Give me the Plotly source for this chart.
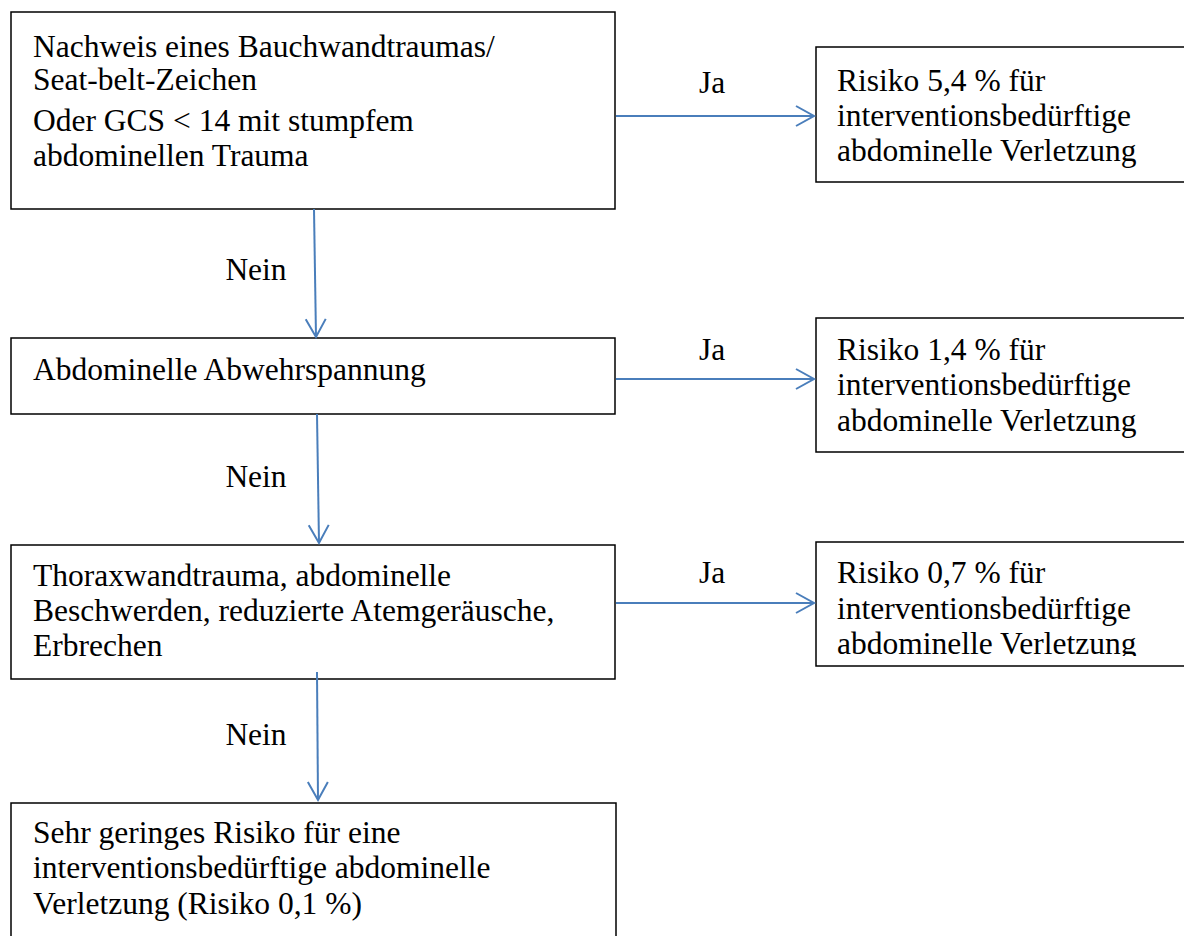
import math
import plotly.graph_objects as go

# ---------------- data (texts) ----------------
box1_lines = ["Nachweis eines Bauchwandtraumas/", "Seat-belt-Zeichen",
              "Oder GCS < 14 mit stumpfem", "abdominellen Trauma"]
box2_lines = ["Abdominelle Abwehrspannung"]
box3_lines = ["Thoraxwandtrauma, abdominelle",
              "Beschwerden, reduzierte Atemgeräusche,", "Erbrechen"]
box4_lines = ["Sehr geringes Risiko für eine",
              "interventionsbedürftige abdominelle",
              "Verletzung (Risiko 0,1 %)"]
risk_values = ["5,4", "1,4", "0,7"]
risk_tail = ["interventionsbedürftige", "abdominelle Verletzung"]
yes_label = "Ja"
no_label = "Nein"

# ---------------- layout (pixel coordinates) ----------------
W, H = 1184, 936
FONT = "Liberation Serif, Times New Roman, serif"
FS = 31.5
BLUE = "#4A7EBB"

left_boxes = [  # x0, y0, x1, y1
    (11, 12, 615, 209),
    (11, 338, 615, 414),
    (11, 545, 615, 679),
    (11, 803, 616, 945),
]
left_baselines = [
    [52, 85, 126, 161],
    [375],
    [581, 616, 651],
    [838, 873, 909],
]
right_boxes = [
    (816, 47, 1200, 182),
    (816, 318, 1200, 452),
    (816, 542, 1200, 666),
]
right_baselines = [
    [86, 121, 156],
    [355, 390, 426],
    [578, 614, 649],
]
text_x_left = 33
text_x_right = 837
baseline_to_mid = 3

yes_pos = [(712, 85), (712, 352), (712, 575)]
no_pos = [(256, 272), (256, 479), (256, 737)]

h_arrows = [((616, 116), (814, 116)), ((616, 379), (814, 379)), ((616, 603), (814, 603))]
v_arrows = [((314, 209), (316, 337)), ((317, 414), (319, 543)), ((317, 672), (318, 800))]

fig = go.Figure()

left_texts = [box1_lines, box2_lines, box3_lines, box4_lines]
for lines, bls in zip(left_texts, left_baselines):
    fig.add_trace(go.Scatter(
        x=[text_x_left] * len(lines), y=[b - baseline_to_mid for b in bls],
        text=lines, mode="text", textposition="middle right",
        textfont=dict(family=FONT, size=FS, color="black"),
        hoverinfo="skip", showlegend=False, cliponaxis=False))

for val, bls in zip(risk_values, right_baselines):
    lines = [f"Risiko {val} % für"] + risk_tail
    fig.add_trace(go.Scatter(
        x=[text_x_right] * len(lines), y=[b - baseline_to_mid for b in bls],
        text=lines, mode="text", textposition="middle right",
        textfont=dict(family=FONT, size=FS, color="black"),
        hoverinfo="skip", showlegend=False, cliponaxis=False))

fig.add_trace(go.Scatter(
    x=[p[0] for p in yes_pos], y=[p[1] for p in yes_pos], text=[yes_label] * 3,
    mode="text", textposition="middle center",
    textfont=dict(family=FONT, size=FS, color="black"),
    hoverinfo="skip", showlegend=False))
fig.add_trace(go.Scatter(
    x=[p[0] for p in no_pos], y=[p[1] for p in no_pos], text=[no_label] * 3,
    mode="text", textposition="middle center",
    textfont=dict(family=FONT, size=FS, color="black"),
    hoverinfo="skip", showlegend=False))

shapes = []
# clip the last line of the third risk box (as in the original)
rb = right_boxes[2]
shapes.append(dict(type="rect", xref="x", yref="y", x0=rb[0] + 2, x1=rb[2],
                   y0=656, y1=rb[3] - 1, fillcolor="white",
                   line=dict(width=0), layer="above"))
for (x0, y0, x1, y1) in left_boxes + right_boxes:
    shapes.append(dict(type="rect", xref="x", yref="y", x0=x0, y0=y0, x1=x1, y1=y1,
                       line=dict(color="black", width=1.5), layer="above"))


def arrow(p0, p1):
    (xa, ya), (xb, yb) = p0, p1
    out = [dict(type="line", xref="x", yref="y", x0=xa, y0=ya, x1=xb, y1=yb,
                line=dict(color=BLUE, width=2), layer="above")]
    dx, dy = xb - xa, yb - ya
    L = math.hypot(dx, dy)
    ux, uy = dx / L, dy / L
    px, py = -uy, ux
    back, half = 18, 10
    lx, ly = xb - ux * back + px * half, yb - uy * back + py * half
    rx, ry = xb - ux * back - px * half, yb - uy * back - py * half
    out.append(dict(type="path", xref="x", yref="y",
                    path=f"M {lx},{ly} L {xb},{yb} L {rx},{ry}",
                    line=dict(color=BLUE, width=2), layer="above"))
    return out


for a in h_arrows + v_arrows:
    shapes.extend(arrow(*a))

fig.update_layout(
    width=W, height=H, margin=dict(l=0, r=0, t=0, b=0),
    paper_bgcolor="white", plot_bgcolor="white",
    xaxis=dict(range=[0, W], visible=False, fixedrange=True),
    yaxis=dict(range=[H, 0], visible=False, fixedrange=True),
    shapes=shapes, showlegend=False,
)

fig.write_html("out.html", config={"staticPlot": True},
               post_script="document.body.style.margin='0';document.body.style.overflow='hidden';")
